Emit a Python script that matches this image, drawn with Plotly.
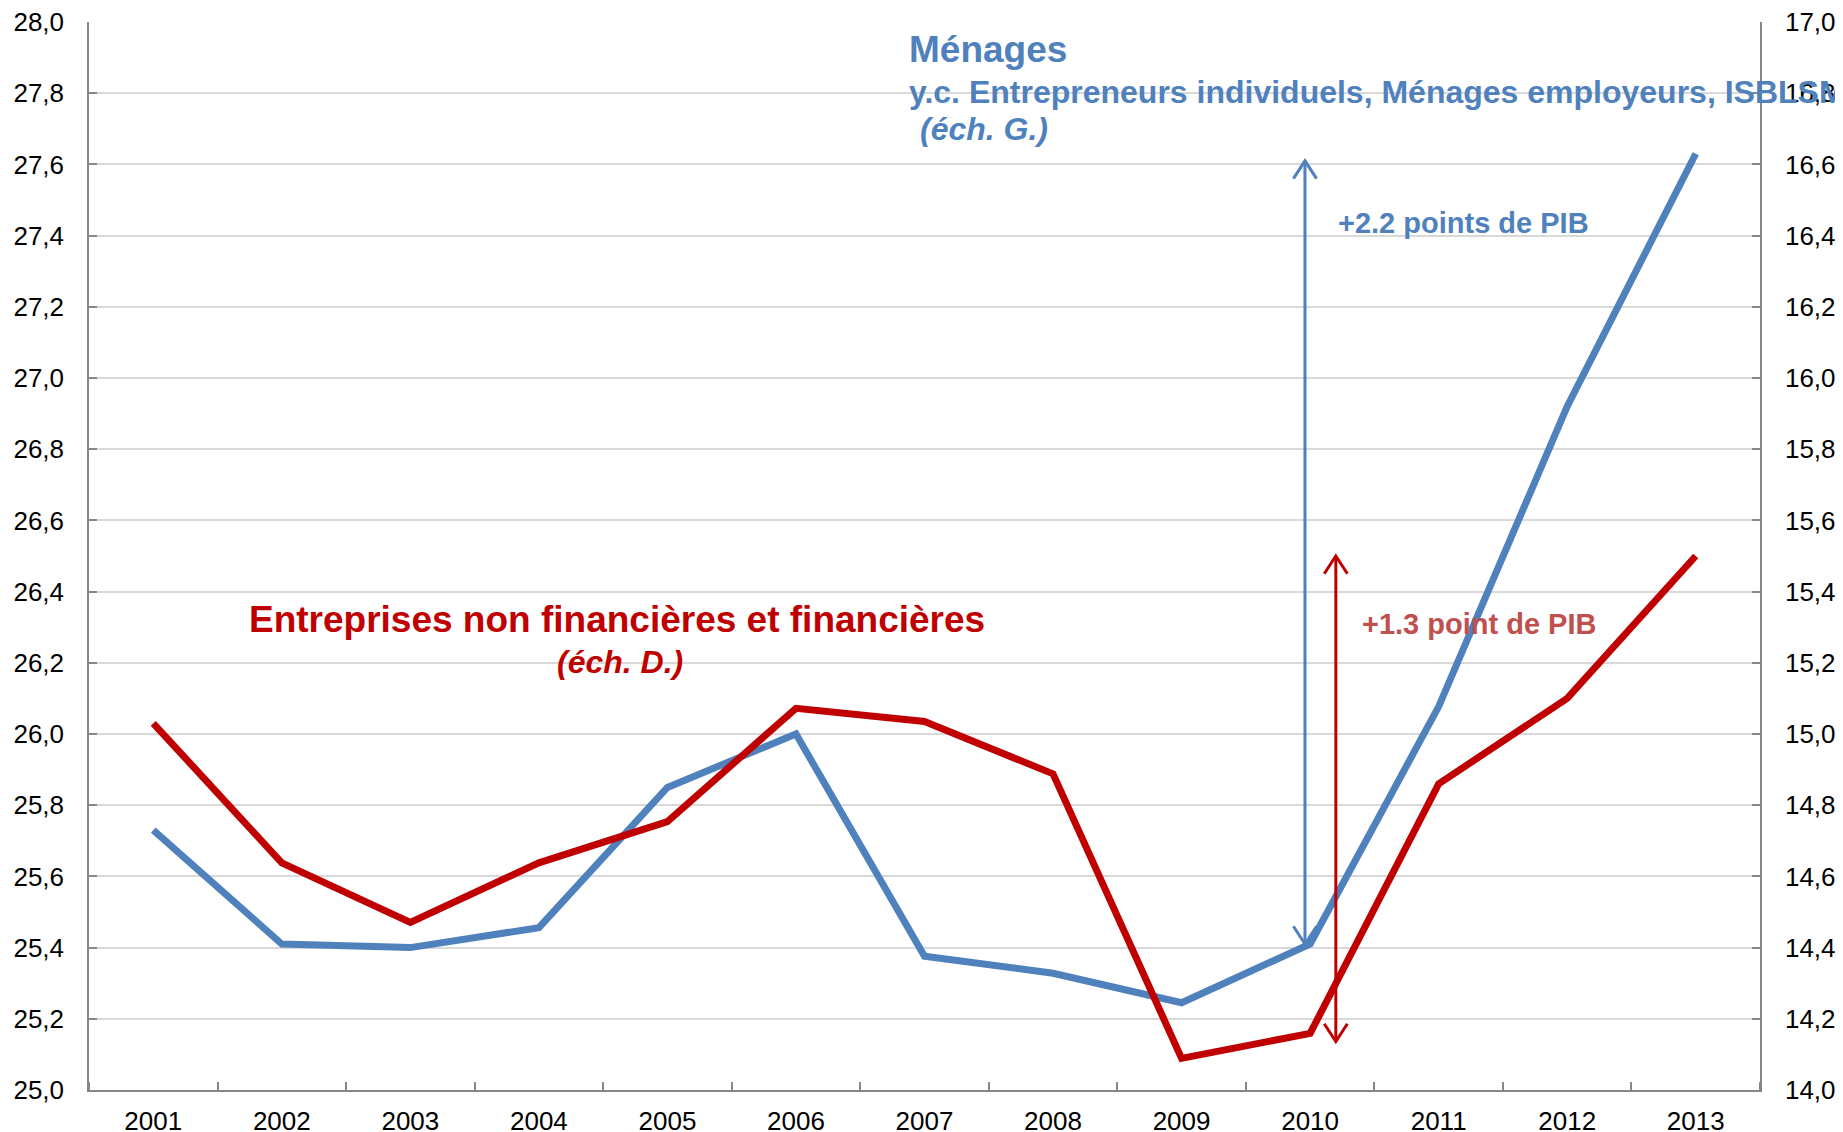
import plotly.graph_objects as go

# ---------------- data ----------------
years = [2001, 2002, 2003, 2004, 2005, 2006, 2007, 2008, 2009, 2010, 2011, 2012, 2013]
menages = [25.73, 25.41, 25.40, 25.456, 25.85, 26.00, 25.376, 25.328, 25.245, 25.41, 26.077, 26.92, 27.63]
entreprises = [15.03, 14.638, 14.471, 14.638, 14.754, 15.072, 15.035, 14.888, 14.089, 14.159, 14.86, 15.10, 15.50]

left_ticks = [25.0, 25.2, 25.4, 25.6, 25.8, 26.0, 26.2, 26.4, 26.6, 26.8, 27.0, 27.2, 27.4, 27.6, 27.8, 28.0]
right_ticks = [14.0, 14.2, 14.4, 14.6, 14.8, 15.0, 15.2, 15.4, 15.6, 15.8, 16.0, 16.2, 16.4, 16.6, 16.8, 17.0]
year_bounds = [2000.5, 2001.5, 2002.5, 2003.5, 2004.5, 2005.5, 2006.5, 2007.5, 2008.5,
               2009.5, 2010.5, 2011.5, 2012.5, 2013.5]

# double arrows (x in years, [bottom, top] in axis units)
arrow_blue_x = 2009.96
arrow_blue_range = [25.41, 27.61]
arrow_red_x = 2010.2
arrow_red_range = [14.136, 15.50]

BLUE = "#4F81BD"
RED = "#C00000"
RED_TXT = "#C0504D"
FONT = "Liberation Sans, Arial, sans-serif"

W, H = 1843, 1132
OFF = 8  # default page body margin in the browser
# target plot area in page pixels: x 89..1760, y 22..1090
ML, MT = 89 - OFF, 22 - OFF
MR, MB = W - (1760 - OFF), H - (1090 - OFF)
PW, PH = W - ML - MR, H - MT - MB


def px(x):  # page pixel -> paper fraction
    return (x - OFF - ML) / PW


def py(y):
    return (H - MB - (y - OFF)) / PH


fig = go.Figure()
fig.add_trace(go.Scatter(x=years, y=menages, mode="lines", line=dict(color=BLUE, width=7),
                         yaxis="y", showlegend=False, hoverinfo="skip"))
fig.add_trace(go.Scatter(x=years, y=entreprises, mode="lines", line=dict(color=RED, width=7),
                         yaxis="y2", showlegend=False, hoverinfo="skip"))

shapes = []


def double_arrow(x, rng, yref, color, width, dx=0.09, dy=0.05):
    lo, hi = rng
    shapes.append(dict(type="line", xref="x", yref=yref, x0=x, x1=x, y0=lo, y1=hi,
                       line=dict(color=color, width=width)))
    path_top = f"M {x-dx},{hi-dy} L {x},{hi} L {x+dx},{hi-dy}"
    path_bot = f"M {x-dx},{lo+dy} L {x},{lo} L {x+dx},{lo+dy}"
    for p in (path_top, path_bot):
        shapes.append(dict(type="path", xref="x", yref=yref, path=p,
                           line=dict(color=color, width=width)))


double_arrow(arrow_blue_x, arrow_blue_range, "y", BLUE, 3)
double_arrow(arrow_red_x, arrow_red_range, "y2", RED, 3)

annotations = [
    dict(text="<b>Ménages</b>", x=px(907), y=py(49), size=37, color=BLUE),
    dict(text="<b>y.c. Entrepreneurs individuels, Ménages employeurs, ISBLSM</b>", x=px(907), y=py(92), size=32, color=BLUE),
    dict(text="<b><i>(éch. G.)</i></b>", x=px(918), y=py(129), size=32, color=BLUE),
    dict(text="<b>+2.2 points de PIB</b>", x=px(1336), y=py(223), size=29, color=BLUE),
    dict(text="<b>Entreprises non financières et financières</b>", x=px(247), y=py(619), size=37, color=RED),
    dict(text="<b><i>(éch. D.)</i></b>", x=px(555), y=py(662), size=32, color=RED),
    dict(text="<b>+1.3 point de PIB</b>", x=px(1360), y=py(624), size=29, color=RED_TXT),
]
ann = []
for a in annotations:
    ann.append(dict(text=a["text"], x=a["x"], y=a["y"], xref="paper", yref="paper",
                    xanchor="left", yanchor="middle", showarrow=False,
                    font=dict(family=FONT, size=a["size"], color=a["color"])))

AX = "#868686"
TF = 26
fig.update_layout(
    width=W, height=H,
    margin=dict(l=ML, r=MR, t=MT, b=MB, autoexpand=False),
    paper_bgcolor="white", plot_bgcolor="white",
    separators=", ",
    font=dict(family=FONT, size=TF, color="black"),
    xaxis=dict(range=[2000.5, 2013.5], tickvals=years, ticktext=[str(y) for y in years],
               ticks="", showgrid=False, zeroline=False, automargin=False,
               showline=True, linecolor=AX, linewidth=1.5, ticklabeloverflow="allow",
               minor=dict(tickvals=year_bounds, ticks="inside", ticklen=8, tickcolor=AX, tickwidth=1.5, showgrid=False),
               tickfont=dict(size=TF), ticklabelstandoff=7),
    yaxis=dict(range=[25.0, 28.0], tickvals=left_ticks, tickformat=".1f",
               ticks="inside", ticklen=8, tickcolor=AX, tickwidth=1.5, automargin=False,
               showgrid=True, gridcolor="#D9D9D9", gridwidth=1.5, zeroline=False,
               showline=True, linecolor=AX, linewidth=1.5, ticklabeloverflow="allow",
               tickfont=dict(size=TF), ticklabelstandoff=18),
    yaxis2=dict(range=[14.0, 17.0], tickvals=right_ticks, tickformat=".1f",
                overlaying="y", side="right", automargin=False,
                ticks="inside", ticklen=8, tickcolor=AX, tickwidth=1.5,
                showgrid=False, zeroline=False, ticklabeloverflow="allow",
                showline=True, linecolor=AX, linewidth=1.5,
                tickfont=dict(size=TF), ticklabelstandoff=18),
    shapes=shapes,
    annotations=ann,
    showlegend=False,
)

fig.write_html("out.html")
